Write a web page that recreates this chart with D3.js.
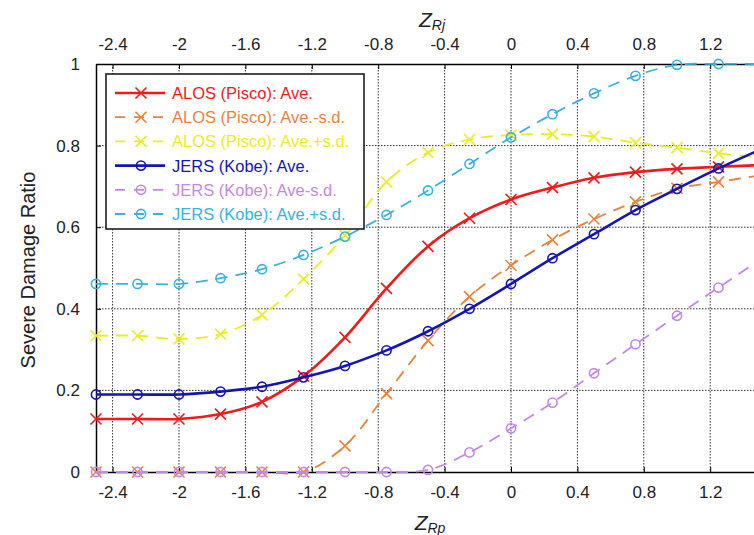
<!DOCTYPE html>
<html>
<head>
<meta charset="utf-8">
<script src="https://cdn.jsdelivr.net/npm/d3@7"></script>
<style>
  body { margin: 0; background: #fff; }
  svg { display: block; }
  text { font-family: "Liberation Sans", Arial, Helvetica, sans-serif; }
  .grid line { stroke: #333; stroke-width: 1; stroke-dasharray: 1.5,1.5; }
</style>
</head>
<body>
<script>
const zValues = [-2.5, -2.25, -2, -1.75, -1.5, -1.25, -1, -0.75, -0.5, -0.25, 0, 0.25, 0.5, 0.75, 1, 1.25, 1.5];

const alosAve   = [0.13, 0.13, 0.13, 0.142, 0.172, 0.235, 0.33, 0.45, 0.553, 0.622, 0.668, 0.697, 0.721, 0.735, 0.743, 0.748, 0.752];
const alosMinus = [0, 0, 0, 0, 0, 0, 0.064, 0.192, 0.322, 0.43, 0.506, 0.569, 0.62, 0.662, 0.695, 0.711, 0.727];
const alosPlus  = [0.334, 0.334, 0.326, 0.338, 0.385, 0.473, 0.58, 0.711, 0.783, 0.815, 0.826, 0.828, 0.822, 0.807, 0.795, 0.781, 0.77];
const jersAve   = [0.19, 0.19, 0.19, 0.197, 0.209, 0.232, 0.26, 0.298, 0.345, 0.40, 0.461, 0.524, 0.583, 0.642, 0.694, 0.744, 0.79];
const jersMinus = [0, 0, 0, 0, 0, 0, 0, 0, 0.005, 0.048, 0.107, 0.17, 0.242, 0.313, 0.383, 0.452, 0.52];
const jersPlus  = [0.461, 0.461, 0.461, 0.475, 0.497, 0.532, 0.577, 0.63, 0.69, 0.755, 0.82, 0.877, 0.928, 0.971, 0.998, 1.0, 1.0];

const xTicks = [-2.4, -2, -1.6, -1.2, -0.8, -0.4, 0, 0.4, 0.8, 1.2];
const yTicks = [0, 0.2, 0.4, 0.6, 0.8, 1];

const series = [
  { name: "ALOS (Pisco): Ave.",      values: alosAve,   color: "#f01a1a", marker: "x", dashed: false },
  { name: "ALOS (Pisco): Ave.-s.d.", values: alosMinus, color: "#e6843e", marker: "x", dashed: true },
  { name: "ALOS (Pisco): Ave.+s.d.", values: alosPlus,  color: "#ecec22", marker: "x", dashed: true },
  { name: "JERS (Kobe): Ave.",       values: jersAve,   color: "#1515b0", marker: "o", dashed: false },
  { name: "JERS (Kobe): Ave-s.d.",   values: jersMinus, color: "#c488e4", marker: "o", dashed: true },
  { name: "JERS (Kobe): Ave.+s.d.",  values: jersPlus,  color: "#38b2dc", marker: "o", dashed: true }
];

const width = 754, height = 535;
const plotLeft = 96, plotTop = 64, plotBottom = 472, plotRight = 760;

const svg = d3.select("body").append("svg")
  .attr("width", width)
  .attr("height", height);

const x = d3.scaleLinear().domain([-2.5, 1.5]).range([plotLeft, plotRight]);
const y = d3.scaleLinear().domain([0, 1]).range([plotBottom, plotTop]);

// grid
const grid = svg.append("g").attr("class", "grid");
grid.selectAll(".gx")
  .data(xTicks)
  .enter()
  .append("line")
  .attr("x1", d => x(d)).attr("x2", d => x(d))
  .attr("y1", plotTop).attr("y2", plotBottom);
grid.selectAll(".gy")
  .data(yTicks.filter(d => d > 0 && d < 1))
  .enter()
  .append("line")
  .attr("x1", plotLeft).attr("x2", plotRight)
  .attr("y1", d => y(d)).attr("y2", d => y(d));

// axes
const fmt = d => String(d);
function styleAxis(g) {
  g.selectAll(".domain").attr("stroke", "#000").attr("stroke-width", 1.5);
  g.selectAll(".tick line").attr("stroke", "#000");
  g.selectAll(".tick text").attr("font-size", 17).attr("fill", "#222");
}

svg.append("g")
  .attr("transform", `translate(0,${plotBottom})`)
  .call(d3.axisBottom(x).tickValues(xTicks).tickFormat(fmt).tickSize(-5).tickSizeOuter(0).tickPadding(14))
  .call(styleAxis);

svg.append("g")
  .attr("transform", `translate(0,${plotTop})`)
  .call(d3.axisTop(x).tickValues(xTicks).tickFormat(fmt).tickSize(-5).tickSizeOuter(0).tickPadding(14))
  .call(styleAxis);

svg.append("g")
  .attr("transform", `translate(${plotLeft},0)`)
  .call(d3.axisLeft(y).tickValues(yTicks).tickFormat(fmt).tickSize(-5).tickSizeOuter(0).tickPadding(16))
  .call(styleAxis);

// axis titles
const xt = svg.append("text")
  .attr("x", 430).attr("y", 530)
  .attr("text-anchor", "middle")
  .attr("font-style", "italic")
  .attr("fill", "#222");
xt.append("tspan").attr("font-size", 21).text("Z");
xt.append("tspan").attr("font-size", 14).attr("dy", 3).text("Rp");

const tt = svg.append("text")
  .attr("x", 432).attr("y", 27)
  .attr("text-anchor", "middle")
  .attr("font-style", "italic")
  .attr("fill", "#222");
tt.append("tspan").attr("font-size", 21).text("Z");
tt.append("tspan").attr("font-size", 14).attr("dy", 3).text("Rj");

svg.append("text")
  .attr("transform", `translate(28,${(plotTop + plotBottom) / 2 + 2}) rotate(-90)`)
  .attr("text-anchor", "middle")
  .attr("dominant-baseline", "central")
  .attr("font-size", 20)
  .attr("fill", "#222")
  .text("Severe Damage Ratio");

// lines
const line = d3.line()
  .x((d, i) => x(zValues[i]))
  .y(d => y(d))
  .curve(d3.curveCatmullRom.alpha(0.5));

function drawMarker(g, type, color, cx, cy) {
  if (type === "x") {
    g.append("path")
      .attr("d", `M${cx - 5.5},${cy - 5.5}L${cx + 5.5},${cy + 5.5}M${cx - 5.5},${cy + 5.5}L${cx + 5.5},${cy - 5.5}`)
      .attr("stroke", color).attr("stroke-width", 1.6).attr("fill", "none");
  } else {
    g.append("circle")
      .attr("cx", cx).attr("cy", cy).attr("r", 4.6)
      .attr("stroke", color).attr("stroke-width", 1.6).attr("fill", "none");
  }
}

series.forEach(s => {
  const g = svg.append("g");
  g.append("path")
    .datum(s.values)
    .attr("d", line)
    .attr("fill", "none")
    .attr("stroke", s.color)
    .attr("stroke-width", s.dashed ? 1.8 : 2.6)
    .attr("stroke-dasharray", s.dashed ? "12,8" : null);
  s.values.forEach((v, i) => drawMarker(g, s.marker, s.color, x(zValues[i]), y(v)));
});

// legend
const legend = svg.append("g");
legend.append("rect")
  .attr("x", 106).attr("y", 74)
  .attr("width", 258).attr("height", 155)
  .attr("fill", "#fff")
  .attr("stroke", "#111")
  .attr("stroke-width", 1.5);

series.forEach((s, i) => {
  const cy = 93 + i * 24.2;
  legend.append("line")
    .attr("x1", 115).attr("x2", 165)
    .attr("y1", cy).attr("y2", cy)
    .attr("stroke", s.color)
    .attr("stroke-width", s.dashed ? 1.8 : 2.6)
    .attr("stroke-dasharray", s.dashed ? "10,9" : null);
  drawMarker(legend, s.marker, s.color, 141, cy);
  legend.append("text")
    .attr("x", 172).attr("y", cy)
    .attr("dominant-baseline", "central")
    .attr("font-size", 16.5)
    .attr("fill", s.color)
    .text(s.name);
});
</script>
</body>
</html>
